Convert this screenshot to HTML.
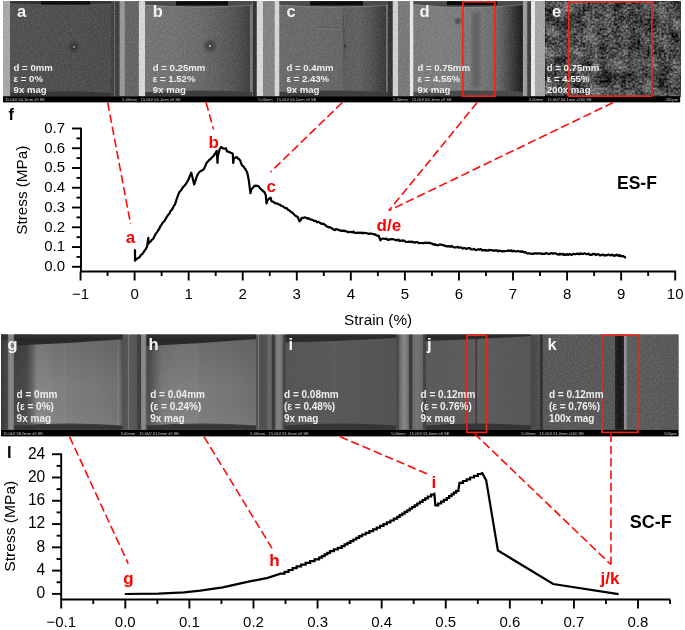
<!DOCTYPE html>
<html><head><meta charset="utf-8"><style>
html,body{margin:0;padding:0;background:#fff;}
body{width:685px;height:630px;overflow:hidden;position:relative;font-family:"Liberation Sans",sans-serif;}
svg{position:absolute;left:0;top:0;display:block;will-change:transform;}
</style></head><body>
<svg width="685" height="630" viewBox="0 0 685 630">
<defs><filter id="n1" x="0" y="0" width="100%" height="100%" color-interpolation-filters="sRGB"><feTurbulence type="fractalNoise" baseFrequency="0.65" numOctaves="2" seed="3" result="t"/><feColorMatrix in="t" type="matrix" values="1 0 0 0 0  1 0 0 0 0  1 0 0 0 0  0 0 0 0 1" result="g"/><feComposite in="SourceGraphic" in2="g" operator="arithmetic" k1="0" k2="1" k3="0.16" k4="-0.08"/></filter><filter id="n3" x="0" y="0" width="100%" height="100%" color-interpolation-filters="sRGB"><feTurbulence type="fractalNoise" baseFrequency="0.75" numOctaves="2" seed="5" result="t"/><feColorMatrix in="t" type="matrix" values="1 0 0 0 0  1 0 0 0 0  1 0 0 0 0  0 0 0 0 1" result="g"/><feComposite in="SourceGraphic" in2="g" operator="arithmetic" k1="0" k2="1" k3="0.06" k4="-0.03"/></filter><filter id="n4" x="0" y="0" width="100%" height="100%" color-interpolation-filters="sRGB"><feTurbulence type="fractalNoise" baseFrequency="0.6" numOctaves="2" seed="9" result="t"/><feColorMatrix in="t" type="matrix" values="1 0 0 0 0  1 0 0 0 0  1 0 0 0 0  0 0 0 0 1" result="g"/><feComposite in="SourceGraphic" in2="g" operator="arithmetic" k1="0" k2="1" k3="0.16" k4="-0.08"/></filter><filter id="n2" x="0" y="0" width="100%" height="100%" color-interpolation-filters="sRGB"><feTurbulence type="fractalNoise" baseFrequency="0.42" numOctaves="2" seed="11" result="t1"/><feTurbulence type="fractalNoise" baseFrequency="0.07" numOctaves="2" seed="4" result="t2"/><feColorMatrix in="t1" type="matrix" values="1 0 0 0 0  1 0 0 0 0  1 0 0 0 0  0 0 0 0 1" result="g1"/><feColorMatrix in="t2" type="matrix" values="1 0 0 0 0  1 0 0 0 0  1 0 0 0 0  0 0 0 0 1" result="g2"/><feComposite in="SourceGraphic" in2="g1" operator="arithmetic" k1="0" k2="1" k3="0.68" k4="-0.34" result="s1"/><feComposite in="s1" in2="g2" operator="arithmetic" k1="0" k2="1" k3="0.55" k4="-0.275"/></filter><filter id="blur2"><feGaussianBlur stdDeviation="2"/></filter><linearGradient id="vg" x1="0" y1="0" x2="0" y2="1"><stop offset="0" stop-color="#000" stop-opacity="0.13"/><stop offset="0.6" stop-color="#000" stop-opacity="0"/><stop offset="1" stop-color="#fff" stop-opacity="0.04"/></linearGradient><radialGradient id="spot"><stop offset="0" stop-color="#181818" stop-opacity="0.6"/><stop offset="0.5" stop-color="#202020" stop-opacity="0.35"/><stop offset="1" stop-color="#202020" stop-opacity="0"/></radialGradient><filter id="blur1"><feGaussianBlur stdDeviation="1"/></filter><linearGradient id="g1" gradientUnits="userSpaceOnUse" x1="3" y1="0" x2="138.8" y2="0"><stop offset="0.0000" stop-color="#a8a8a8"/><stop offset="0.0530" stop-color="#a8a8a8"/><stop offset="0.0552" stop-color="#535353"/><stop offset="0.4197" stop-color="#515151"/><stop offset="0.7953" stop-color="#4e4e4e"/><stop offset="0.7990" stop-color="#444444"/><stop offset="0.8174" stop-color="#424242"/><stop offset="0.8211" stop-color="#6e6e6e"/><stop offset="0.8284" stop-color="#424242"/><stop offset="0.8564" stop-color="#424242"/><stop offset="0.8601" stop-color="#989898"/><stop offset="0.8940" stop-color="#989898"/><stop offset="0.8976" stop-color="#666666"/><stop offset="1.0000" stop-color="#666666"/></linearGradient><linearGradient id="g2" gradientUnits="userSpaceOnUse" x1="138.8" y1="0" x2="274.6" y2="0"><stop offset="0.0000" stop-color="#d6d6d6"/><stop offset="0.0457" stop-color="#d6d6d6"/><stop offset="0.0486" stop-color="#767676"/><stop offset="0.2666" stop-color="#737373"/><stop offset="0.4507" stop-color="#6c6c6c"/><stop offset="0.5979" stop-color="#606060"/><stop offset="0.7084" stop-color="#545454"/><stop offset="0.7820" stop-color="#484848"/><stop offset="0.8152" stop-color="#404040"/><stop offset="0.8225" stop-color="#7d7d7d"/><stop offset="0.8373" stop-color="#6e6e6e"/><stop offset="0.8409" stop-color="#343434"/><stop offset="0.8660" stop-color="#343434"/><stop offset="0.8689" stop-color="#d7d7d7"/><stop offset="0.9109" stop-color="#d7d7d7"/><stop offset="0.9146" stop-color="#848484"/><stop offset="1.0000" stop-color="#848484"/></linearGradient><linearGradient id="g3" gradientUnits="userSpaceOnUse" x1="274.6" y1="0" x2="409.8" y2="0"><stop offset="0.0000" stop-color="#d6d6d6"/><stop offset="0.0340" stop-color="#d6d6d6"/><stop offset="0.0370" stop-color="#6c6c6c"/><stop offset="0.3358" stop-color="#6a6a6a"/><stop offset="0.4985" stop-color="#676767"/><stop offset="0.5096" stop-color="#5e5e5e"/><stop offset="0.6317" stop-color="#626262"/><stop offset="0.7056" stop-color="#565656"/><stop offset="0.7648" stop-color="#484848"/><stop offset="0.8166" stop-color="#3c3c3c"/><stop offset="0.8203" stop-color="#3c3c3c"/><stop offset="0.8277" stop-color="#737373"/><stop offset="0.8351" stop-color="#696969"/><stop offset="0.8388" stop-color="#343434"/><stop offset="0.8713" stop-color="#343434"/><stop offset="0.8743" stop-color="#d0d0d0"/><stop offset="0.9098" stop-color="#d0d0d0"/><stop offset="0.9127" stop-color="#7a7a7a"/><stop offset="1.0000" stop-color="#7a7a7a"/></linearGradient><linearGradient id="g4" gradientUnits="userSpaceOnUse" x1="409.8" y1="0" x2="545.3" y2="0"><stop offset="0.0000" stop-color="#e6e6e6"/><stop offset="0.0251" stop-color="#e6e6e6"/><stop offset="0.0280" stop-color="#7c7c7c"/><stop offset="0.2229" stop-color="#7e7e7e"/><stop offset="0.3779" stop-color="#7d7d7d"/><stop offset="0.5181" stop-color="#787878"/><stop offset="0.6214" stop-color="#6e6e6e"/><stop offset="0.6804" stop-color="#606060"/><stop offset="0.7321" stop-color="#4a4a4a"/><stop offset="0.7764" stop-color="#363636"/><stop offset="0.8207" stop-color="#242424"/><stop offset="0.8317" stop-color="#2a2a2a"/><stop offset="0.8354" stop-color="#a5a5a5"/><stop offset="0.8664" stop-color="#969696"/><stop offset="0.8694" stop-color="#444444"/><stop offset="0.8915" stop-color="#444444"/><stop offset="0.8945" stop-color="#e8e8e8"/><stop offset="0.9210" stop-color="#e8e8e8"/><stop offset="0.9240" stop-color="#a5a5a5"/><stop offset="1.0000" stop-color="#a5a5a5"/></linearGradient><linearGradient id="g5" gradientUnits="userSpaceOnUse" x1="545.3" y1="0" x2="680.2" y2="0"><stop offset="0.0000" stop-color="#4c4c4c"/><stop offset="1.0000" stop-color="#4c4c4c"/></linearGradient><linearGradient id="g6" gradientUnits="userSpaceOnUse" x1="1" y1="0" x2="137.2" y2="0"><stop offset="0.0000" stop-color="#3a3a3a"/><stop offset="0.0499" stop-color="#484848"/><stop offset="0.0529" stop-color="#787878"/><stop offset="0.0734" stop-color="#8c8c8c"/><stop offset="0.0954" stop-color="#767676"/><stop offset="0.0984" stop-color="#464646"/><stop offset="0.1836" stop-color="#4a4a4a"/><stop offset="0.2276" stop-color="#646464"/><stop offset="0.2643" stop-color="#868686"/><stop offset="0.3304" stop-color="#868686"/><stop offset="0.3891" stop-color="#818181"/><stop offset="0.4699" stop-color="#7f7f7f"/><stop offset="0.4728" stop-color="#888888"/><stop offset="0.4772" stop-color="#7d7d7d"/><stop offset="0.7269" stop-color="#787878"/><stop offset="0.8517" stop-color="#727272"/><stop offset="0.8627" stop-color="#7e7e7e"/><stop offset="0.8700" stop-color="#707070"/><stop offset="0.8811" stop-color="#686868"/><stop offset="0.8928" stop-color="#525252"/><stop offset="0.9288" stop-color="#565656"/><stop offset="0.9325" stop-color="#969696"/><stop offset="0.9398" stop-color="#5a5a5a"/><stop offset="1.0000" stop-color="#545454"/></linearGradient><linearGradient id="g7" gradientUnits="userSpaceOnUse" x1="137.2" y1="0" x2="266.8" y2="0"><stop offset="0.0000" stop-color="#3e3e3e"/><stop offset="0.0293" stop-color="#3e3e3e"/><stop offset="0.0324" stop-color="#808080"/><stop offset="0.0525" stop-color="#8c8c8c"/><stop offset="0.0694" stop-color="#787878"/><stop offset="0.0725" stop-color="#505050"/><stop offset="0.0934" stop-color="#505050"/><stop offset="0.1373" stop-color="#646464"/><stop offset="0.1914" stop-color="#7a7a7a"/><stop offset="0.3302" stop-color="#808080"/><stop offset="0.4537" stop-color="#7e7e7e"/><stop offset="0.4568" stop-color="#858585"/><stop offset="0.4614" stop-color="#7c7c7c"/><stop offset="0.7160" stop-color="#767676"/><stop offset="0.9136" stop-color="#707070"/><stop offset="0.9167" stop-color="#525252"/><stop offset="0.9344" stop-color="#525252"/><stop offset="0.9367" stop-color="#8c8c8c"/><stop offset="0.9414" stop-color="#525252"/><stop offset="0.9606" stop-color="#505050"/><stop offset="1.0000" stop-color="#545454"/></linearGradient><linearGradient id="g8" gradientUnits="userSpaceOnUse" x1="266.8" y1="0" x2="407.6" y2="0"><stop offset="0.0000" stop-color="#565656"/><stop offset="0.0050" stop-color="#646464"/><stop offset="0.0227" stop-color="#686868"/><stop offset="0.0369" stop-color="#565656"/><stop offset="0.0384" stop-color="#3c3c3c"/><stop offset="0.0597" stop-color="#3c3c3c"/><stop offset="0.0625" stop-color="#767676"/><stop offset="0.0866" stop-color="#828282"/><stop offset="0.1108" stop-color="#707070"/><stop offset="0.1136" stop-color="#464646"/><stop offset="0.1321" stop-color="#464646"/><stop offset="0.1349" stop-color="#565656"/><stop offset="0.4773" stop-color="#595959"/><stop offset="0.4808" stop-color="#606060"/><stop offset="0.4844" stop-color="#585858"/><stop offset="0.7330" stop-color="#565656"/><stop offset="0.9162" stop-color="#535353"/><stop offset="0.9190" stop-color="#4a4a4a"/><stop offset="0.9389" stop-color="#4a4a4a"/><stop offset="0.9411" stop-color="#787878"/><stop offset="0.9446" stop-color="#4c4c4c"/><stop offset="0.9474" stop-color="#6e6e6e"/><stop offset="0.9744" stop-color="#878787"/><stop offset="1.0000" stop-color="#787878"/></linearGradient><linearGradient id="g9" gradientUnits="userSpaceOnUse" x1="407.6" y1="0" x2="537.6" y2="0"><stop offset="0.0000" stop-color="#767676"/><stop offset="0.0123" stop-color="#646464"/><stop offset="0.0138" stop-color="#3a3a3a"/><stop offset="0.0362" stop-color="#3a3a3a"/><stop offset="0.0385" stop-color="#686868"/><stop offset="0.0723" stop-color="#747474"/><stop offset="0.1146" stop-color="#686868"/><stop offset="0.1169" stop-color="#444444"/><stop offset="0.1377" stop-color="#444444"/><stop offset="0.1400" stop-color="#5a5a5a"/><stop offset="0.4492" stop-color="#5c5c5c"/><stop offset="0.5215" stop-color="#5d5d5d"/><stop offset="0.5231" stop-color="#3a3a3a"/><stop offset="0.5308" stop-color="#3a3a3a"/><stop offset="0.5323" stop-color="#5e5e5e"/><stop offset="0.7108" stop-color="#5a5a5a"/><stop offset="0.9415" stop-color="#565656"/><stop offset="0.9492" stop-color="#4a4a4a"/><stop offset="0.9800" stop-color="#4a4a4a"/><stop offset="1.0000" stop-color="#545454"/></linearGradient><linearGradient id="g10" gradientUnits="userSpaceOnUse" x1="537.6" y1="0" x2="678.6" y2="0"><stop offset="0.0000" stop-color="#545454"/><stop offset="0.0170" stop-color="#505050"/><stop offset="0.0184" stop-color="#323232"/><stop offset="0.0340" stop-color="#323232"/><stop offset="0.0369" stop-color="#5a5a5a"/><stop offset="0.5475" stop-color="#5a5a5a"/><stop offset="0.5504" stop-color="#282828"/><stop offset="0.5631" stop-color="#1e1e1e"/><stop offset="0.5915" stop-color="#1a1a1a"/><stop offset="0.6099" stop-color="#282828"/><stop offset="0.6128" stop-color="#969696"/><stop offset="0.6305" stop-color="#828282"/><stop offset="0.6362" stop-color="#5e5e5e"/><stop offset="1.0000" stop-color="#5a5a5a"/></linearGradient></defs>
<rect x="3" y="1.2" width="136.4" height="95" fill="url(#g1)" filter="url(#n1)"/>
<path d="M10.5 1.2 H111.5 V3.2 Q61 5.2 10.5 3.2Z" fill="#2e2e2e"/><rect x="41" y="1.2" width="49" height="3.4" fill="#0e0e0e"/>
<path d="M10.5 92.8 Q61 90.4 111.5 92.8 V96.2 H10.5Z" fill="#383838"/>
<circle cx="74" cy="47" r="7" fill="url(#spot)"/><circle cx="74" cy="47" r="1.1" fill="#999"/><line x1="87.0" y1="96.2" x2="87.0" y2="97.5" stroke="#ddd" stroke-width="0.7"/><line x1="90.9" y1="96.2" x2="90.9" y2="97.5" stroke="#ddd" stroke-width="0.7"/><line x1="94.8" y1="96.2" x2="94.8" y2="97.5" stroke="#ddd" stroke-width="0.7"/><line x1="98.7" y1="96.2" x2="98.7" y2="97.5" stroke="#ddd" stroke-width="0.7"/><line x1="102.6" y1="96.2" x2="102.6" y2="97.5" stroke="#ddd" stroke-width="0.7"/><line x1="106.5" y1="96.2" x2="106.5" y2="97.5" stroke="#ddd" stroke-width="0.7"/><line x1="110.4" y1="96.2" x2="110.4" y2="97.5" stroke="#ddd" stroke-width="0.7"/><line x1="114.3" y1="96.2" x2="114.3" y2="97.5" stroke="#ddd" stroke-width="0.7"/><line x1="118.2" y1="96.2" x2="118.2" y2="97.5" stroke="#ddd" stroke-width="0.7"/><line x1="122.1" y1="96.2" x2="122.1" y2="97.5" stroke="#ddd" stroke-width="0.7"/><line x1="126.0" y1="96.2" x2="126.0" y2="97.5" stroke="#ddd" stroke-width="0.7"/>
<rect x="3" y="96.2" width="136.3" height="6.2" fill="#000"/>
<text x="5" y="101.1" font-size="4.0" fill="#c8c8c8" font-family="Liberation Sans">15.0kV 64.1mm x9 SE</text>
<text x="136.8" y="101.1" font-size="4.0" fill="#c8c8c8" text-anchor="end" font-family="Liberation Sans">5.00mm</text>

<text x="17" y="16.8" font-size="16.5" font-weight="bold" fill="#f4f4f4" font-family="Liberation Sans">a</text>
<text x="13.6" y="70.6" font-size="9.6" font-weight="bold" fill="#efefef" font-family="Liberation Sans">d = 0mm</text>
<text x="13.6" y="81.9" font-size="9.6" font-weight="bold" fill="#efefef" font-family="Liberation Sans">ε = 0%</text>
<text x="13.6" y="93.2" font-size="9.6" font-weight="bold" fill="#efefef" font-family="Liberation Sans">9x mag</text>
<rect x="138.8" y="1.2" width="136.4" height="95" fill="url(#g2)" filter="url(#n1)"/>
<path d="M145.4 1.2 H252 V4.8 Q198.7 8.8 145.4 4.8Z" fill="#4a4a4a"/><path d="M145.4 5.2 Q198.7 9.2 252 5.2" fill="none" stroke="#a0a0a0" stroke-width="0.8" opacity="0.55"/><rect x="176" y="1.2" width="52" height="4.2" fill="#0c0c0c"/>
<path d="M145.4 92 Q198.7 89 252 92 V96.2 H145.4Z" fill="#3e3e3e"/>
<circle cx="210" cy="46" r="8" fill="url(#spot)"/><circle cx="210" cy="46" r="1.2" fill="#aaa"/><line x1="223.0" y1="96.2" x2="223.0" y2="97.5" stroke="#ddd" stroke-width="0.7"/><line x1="226.9" y1="96.2" x2="226.9" y2="97.5" stroke="#ddd" stroke-width="0.7"/><line x1="230.8" y1="96.2" x2="230.8" y2="97.5" stroke="#ddd" stroke-width="0.7"/><line x1="234.7" y1="96.2" x2="234.7" y2="97.5" stroke="#ddd" stroke-width="0.7"/><line x1="238.6" y1="96.2" x2="238.6" y2="97.5" stroke="#ddd" stroke-width="0.7"/><line x1="242.5" y1="96.2" x2="242.5" y2="97.5" stroke="#ddd" stroke-width="0.7"/><line x1="246.4" y1="96.2" x2="246.4" y2="97.5" stroke="#ddd" stroke-width="0.7"/><line x1="250.3" y1="96.2" x2="250.3" y2="97.5" stroke="#ddd" stroke-width="0.7"/><line x1="254.2" y1="96.2" x2="254.2" y2="97.5" stroke="#ddd" stroke-width="0.7"/><line x1="258.1" y1="96.2" x2="258.1" y2="97.5" stroke="#ddd" stroke-width="0.7"/><line x1="262.0" y1="96.2" x2="262.0" y2="97.5" stroke="#ddd" stroke-width="0.7"/>
<rect x="138.3" y="96.2" width="136.8" height="6.2" fill="#000"/>
<text x="140.8" y="101.1" font-size="4.0" fill="#c8c8c8" font-family="Liberation Sans">15.0kV 64.1mm x9 SE</text>
<text x="272.6" y="101.1" font-size="4.0" fill="#c8c8c8" text-anchor="end" font-family="Liberation Sans">5.00mm</text>

<text x="152.8" y="16.8" font-size="16.5" font-weight="bold" fill="#f4f4f4" font-family="Liberation Sans">b</text>
<text x="152.8" y="70.6" font-size="9.6" font-weight="bold" fill="#efefef" font-family="Liberation Sans">d = 0.25mm</text>
<text x="152.8" y="81.9" font-size="9.6" font-weight="bold" fill="#efefef" font-family="Liberation Sans">ε = 1.52%</text>
<text x="152.8" y="93.2" font-size="9.6" font-weight="bold" fill="#efefef" font-family="Liberation Sans">9x mag</text>
<rect x="274.6" y="1.2" width="135.8" height="95" fill="url(#g3)" filter="url(#n1)"/>
<path d="M279.6 1.2 H388 V4.8 Q333.8 8.8 279.6 4.8Z" fill="#4a4a4a"/><path d="M279.6 5.2 Q333.8 9.2 388 5.2" fill="none" stroke="#a0a0a0" stroke-width="0.8" opacity="0.55"/><rect x="310" y="1.2" width="53" height="4.2" fill="#0c0c0c"/>
<path d="M279.6 92 Q333.8 89 388 92 V96.2 H279.6Z" fill="#3e3e3e"/>
<path d="M343 12 L343.5 30 L344.5 45 L344 62" stroke="#4a4a4a" stroke-width="1.4" fill="none" opacity="0.5"/><line x1="316" y1="27" x2="340" y2="28" stroke="#4a4a4a" stroke-width="0.9" opacity="0.7"/><line x1="316" y1="28.3" x2="340" y2="29.3" stroke="#999" stroke-width="0.7" opacity="0.4"/><circle cx="345" cy="46" r="1.4" fill="#333"/><line x1="358.0" y1="96.2" x2="358.0" y2="97.5" stroke="#ddd" stroke-width="0.7"/><line x1="361.9" y1="96.2" x2="361.9" y2="97.5" stroke="#ddd" stroke-width="0.7"/><line x1="365.8" y1="96.2" x2="365.8" y2="97.5" stroke="#ddd" stroke-width="0.7"/><line x1="369.7" y1="96.2" x2="369.7" y2="97.5" stroke="#ddd" stroke-width="0.7"/><line x1="373.6" y1="96.2" x2="373.6" y2="97.5" stroke="#ddd" stroke-width="0.7"/><line x1="377.5" y1="96.2" x2="377.5" y2="97.5" stroke="#ddd" stroke-width="0.7"/><line x1="381.4" y1="96.2" x2="381.4" y2="97.5" stroke="#ddd" stroke-width="0.7"/><line x1="385.3" y1="96.2" x2="385.3" y2="97.5" stroke="#ddd" stroke-width="0.7"/><line x1="389.2" y1="96.2" x2="389.2" y2="97.5" stroke="#ddd" stroke-width="0.7"/><line x1="393.1" y1="96.2" x2="393.1" y2="97.5" stroke="#ddd" stroke-width="0.7"/><line x1="397.0" y1="96.2" x2="397.0" y2="97.5" stroke="#ddd" stroke-width="0.7"/>
<rect x="274.1" y="96.2" width="136.2" height="6.2" fill="#000"/>
<text x="276.6" y="101.1" font-size="4.0" fill="#c8c8c8" font-family="Liberation Sans">15.0kV 64.1mm x9 SE</text>
<text x="407.8" y="101.1" font-size="4.0" fill="#c8c8c8" text-anchor="end" font-family="Liberation Sans">5.00mm</text>

<text x="286.4" y="16.8" font-size="16.5" font-weight="bold" fill="#f4f4f4" font-family="Liberation Sans">c</text>
<text x="286.4" y="70.6" font-size="9.6" font-weight="bold" fill="#efefef" font-family="Liberation Sans">d = 0.4mm</text>
<text x="286.4" y="81.9" font-size="9.6" font-weight="bold" fill="#efefef" font-family="Liberation Sans">ε = 2.43%</text>
<text x="286.4" y="93.2" font-size="9.6" font-weight="bold" fill="#efefef" font-family="Liberation Sans">9x mag</text>
<rect x="409.8" y="1.2" width="136.1" height="95" fill="url(#g4)" filter="url(#n1)"/>
<path d="M413.6 1.2 H523 V4.2 Q468.3 10.2 413.6 4.2Z" fill="#4a4a4a"/><path d="M413.6 4.6 Q468.3 10.6 523 4.6" fill="none" stroke="#a0a0a0" stroke-width="0.8" opacity="0.55"/><rect x="447" y="1.2" width="50" height="4" fill="#0a0a0a"/>
<path d="M413.6 92 Q468.3 89 523 92 V96.2 H413.6Z" fill="#4a4a4a"/>
<rect x="472" y="12" width="8" height="76" fill="#4a4a4a" opacity="0.5" filter="url(#blur2)"/><circle cx="458" cy="21" r="3" fill="#2a2a2a" opacity="0.6" filter="url(#blur1)"/><line x1="493.0" y1="96.2" x2="493.0" y2="97.5" stroke="#ddd" stroke-width="0.7"/><line x1="496.9" y1="96.2" x2="496.9" y2="97.5" stroke="#ddd" stroke-width="0.7"/><line x1="500.8" y1="96.2" x2="500.8" y2="97.5" stroke="#ddd" stroke-width="0.7"/><line x1="504.7" y1="96.2" x2="504.7" y2="97.5" stroke="#ddd" stroke-width="0.7"/><line x1="508.6" y1="96.2" x2="508.6" y2="97.5" stroke="#ddd" stroke-width="0.7"/><line x1="512.5" y1="96.2" x2="512.5" y2="97.5" stroke="#ddd" stroke-width="0.7"/><line x1="516.4" y1="96.2" x2="516.4" y2="97.5" stroke="#ddd" stroke-width="0.7"/><line x1="520.3" y1="96.2" x2="520.3" y2="97.5" stroke="#ddd" stroke-width="0.7"/><line x1="524.2" y1="96.2" x2="524.2" y2="97.5" stroke="#ddd" stroke-width="0.7"/><line x1="528.1" y1="96.2" x2="528.1" y2="97.5" stroke="#ddd" stroke-width="0.7"/><line x1="532.0" y1="96.2" x2="532.0" y2="97.5" stroke="#ddd" stroke-width="0.7"/>
<rect x="409.3" y="96.2" width="136.5" height="6.2" fill="#000"/>
<text x="411.8" y="101.1" font-size="4.0" fill="#c8c8c8" font-family="Liberation Sans">15.0kV 64.1mm x9 SE</text>
<text x="543.3" y="101.1" font-size="4.0" fill="#c8c8c8" text-anchor="end" font-family="Liberation Sans">5.00mm</text>
<rect x="462.8" y="1.8" width="32" height="94.4" fill="none" stroke="#ee2418" stroke-width="1.6"/>
<text x="419.4" y="16.8" font-size="16.5" font-weight="bold" fill="#f4f4f4" font-family="Liberation Sans">d</text>
<text x="417.4" y="70.6" font-size="9.6" font-weight="bold" fill="#efefef" font-family="Liberation Sans">d = 0.75mm</text>
<text x="417.4" y="81.9" font-size="9.6" font-weight="bold" fill="#efefef" font-family="Liberation Sans">ε = 4.55%</text>
<text x="417.4" y="93.2" font-size="9.6" font-weight="bold" fill="#efefef" font-family="Liberation Sans">9x mag</text>
<rect x="545.3" y="1.2" width="134.9" height="95" fill="url(#g5)" filter="url(#n2)"/>
<line x1="640.0" y1="96.2" x2="640.0" y2="97.5" stroke="#ddd" stroke-width="0.7"/><line x1="643.8" y1="96.2" x2="643.8" y2="97.5" stroke="#ddd" stroke-width="0.7"/><line x1="647.6" y1="96.2" x2="647.6" y2="97.5" stroke="#ddd" stroke-width="0.7"/><line x1="651.4" y1="96.2" x2="651.4" y2="97.5" stroke="#ddd" stroke-width="0.7"/><line x1="655.2" y1="96.2" x2="655.2" y2="97.5" stroke="#ddd" stroke-width="0.7"/><line x1="659.0" y1="96.2" x2="659.0" y2="97.5" stroke="#ddd" stroke-width="0.7"/><line x1="662.8" y1="96.2" x2="662.8" y2="97.5" stroke="#ddd" stroke-width="0.7"/><line x1="666.6" y1="96.2" x2="666.6" y2="97.5" stroke="#ddd" stroke-width="0.7"/><line x1="670.4" y1="96.2" x2="670.4" y2="97.5" stroke="#ddd" stroke-width="0.7"/><line x1="674.2" y1="96.2" x2="674.2" y2="97.5" stroke="#ddd" stroke-width="0.7"/><line x1="678.0" y1="96.2" x2="678.0" y2="97.5" stroke="#ddd" stroke-width="0.7"/>
<rect x="544.8" y="96.2" width="135.4" height="6.2" fill="#000"/>
<text x="547.3" y="101.1" font-size="4.0" fill="#c8c8c8" font-family="Liberation Sans">15.0kV 64.1mm x200 SE</text>
<text x="678.2" y="101.1" font-size="4.0" fill="#c8c8c8" text-anchor="end" font-family="Liberation Sans">200µm</text>
<rect x="568.8" y="1.8" width="83" height="94.4" fill="none" stroke="#ee2418" stroke-width="1.6"/>
<text x="552" y="16.8" font-size="16.5" font-weight="bold" fill="#f4f4f4" font-family="Liberation Sans">e</text>
<text x="546.8" y="70.6" font-size="9.6" font-weight="bold" fill="#efefef" font-family="Liberation Sans">d = 0.75mm</text>
<text x="546.8" y="81.9" font-size="9.6" font-weight="bold" fill="#efefef" font-family="Liberation Sans">ε = 4.55%</text>
<text x="546.8" y="93.2" font-size="9.6" font-weight="bold" fill="#efefef" font-family="Liberation Sans">200x mag</text>
<rect x="1" y="334.4" width="136.8" height="95.4" fill="url(#g6)" filter="url(#n3)"/>
<path d="M14.4 334.4 H122.6 V339.2 Q68.5 343.35 14.4 345.5Z" fill="#2e2e2e"/><path d="M1 334.4 H7.6 V340 Q4.3 341 1 340Z" fill="#333"/>
<path d="M14.4 425.5 Q68.5 421.5 122.6 425.5 V429.8 H14.4Z" fill="#353535"/>
<rect x="14.4" y="338" width="108.2" height="87.5" fill="url(#vg)"/><line x1="85.0" y1="429.8" x2="85.0" y2="431.1" stroke="#ddd" stroke-width="0.7"/><line x1="88.9" y1="429.8" x2="88.9" y2="431.1" stroke="#ddd" stroke-width="0.7"/><line x1="92.8" y1="429.8" x2="92.8" y2="431.1" stroke="#ddd" stroke-width="0.7"/><line x1="96.7" y1="429.8" x2="96.7" y2="431.1" stroke="#ddd" stroke-width="0.7"/><line x1="100.6" y1="429.8" x2="100.6" y2="431.1" stroke="#ddd" stroke-width="0.7"/><line x1="104.5" y1="429.8" x2="104.5" y2="431.1" stroke="#ddd" stroke-width="0.7"/><line x1="108.4" y1="429.8" x2="108.4" y2="431.1" stroke="#ddd" stroke-width="0.7"/><line x1="112.3" y1="429.8" x2="112.3" y2="431.1" stroke="#ddd" stroke-width="0.7"/><line x1="116.2" y1="429.8" x2="116.2" y2="431.1" stroke="#ddd" stroke-width="0.7"/><line x1="120.1" y1="429.8" x2="120.1" y2="431.1" stroke="#ddd" stroke-width="0.7"/><line x1="124.0" y1="429.8" x2="124.0" y2="431.1" stroke="#ddd" stroke-width="0.7"/>
<rect x="1" y="429.8" width="136.7" height="6.6" fill="#000"/>
<text x="3" y="435.1" font-size="4.0" fill="#c8c8c8" font-family="Liberation Sans">15.0kV 58.9mm x9 SE</text>
<text x="135.2" y="435.1" font-size="4.0" fill="#c8c8c8" text-anchor="end" font-family="Liberation Sans">5.00mm</text>

<text x="7.4" y="349.8" font-size="16.5" font-weight="bold" fill="#f4f4f4" font-family="Liberation Sans">g</text>
<text x="16.6" y="398.2" font-size="10" font-weight="bold" fill="#efefef" font-family="Liberation Sans">d = 0mm</text>
<text x="16.6" y="409.95" font-size="10" font-weight="bold" fill="#efefef" font-family="Liberation Sans">(ε = 0%)</text>
<text x="16.6" y="421.7" font-size="10" font-weight="bold" fill="#efefef" font-family="Liberation Sans">9x mag</text>
<rect x="137.2" y="334.4" width="130.2" height="95.4" fill="url(#g7)" filter="url(#n3)"/>
<path d="M146.6 334.4 H256 V339 Q201.3 343.5 146.6 346Z" fill="#2e2e2e"/>
<path d="M146.6 425.5 Q201.3 421.5 256 425.5 V429.8 H146.6Z" fill="#353535"/>
<rect x="146.6" y="338" width="109.4" height="87.5" fill="url(#vg)"/><line x1="218.0" y1="429.8" x2="218.0" y2="431.1" stroke="#ddd" stroke-width="0.7"/><line x1="221.9" y1="429.8" x2="221.9" y2="431.1" stroke="#ddd" stroke-width="0.7"/><line x1="225.8" y1="429.8" x2="225.8" y2="431.1" stroke="#ddd" stroke-width="0.7"/><line x1="229.7" y1="429.8" x2="229.7" y2="431.1" stroke="#ddd" stroke-width="0.7"/><line x1="233.6" y1="429.8" x2="233.6" y2="431.1" stroke="#ddd" stroke-width="0.7"/><line x1="237.5" y1="429.8" x2="237.5" y2="431.1" stroke="#ddd" stroke-width="0.7"/><line x1="241.4" y1="429.8" x2="241.4" y2="431.1" stroke="#ddd" stroke-width="0.7"/><line x1="245.3" y1="429.8" x2="245.3" y2="431.1" stroke="#ddd" stroke-width="0.7"/><line x1="249.2" y1="429.8" x2="249.2" y2="431.1" stroke="#ddd" stroke-width="0.7"/><line x1="253.1" y1="429.8" x2="253.1" y2="431.1" stroke="#ddd" stroke-width="0.7"/><line x1="257.0" y1="429.8" x2="257.0" y2="431.1" stroke="#ddd" stroke-width="0.7"/>
<rect x="136.7" y="429.8" width="130.6" height="6.6" fill="#000"/>
<text x="139.2" y="435.1" font-size="4.0" fill="#c8c8c8" font-family="Liberation Sans">15.0kV 61.5mm x9 SE</text>
<text x="264.8" y="435.1" font-size="4.0" fill="#c8c8c8" text-anchor="end" font-family="Liberation Sans">5.00mm</text>

<text x="148.6" y="350.2" font-size="16.5" font-weight="bold" fill="#f4f4f4" font-family="Liberation Sans">h</text>
<text x="150.2" y="398.2" font-size="10" font-weight="bold" fill="#efefef" font-family="Liberation Sans">d = 0.04mm</text>
<text x="150.2" y="409.95" font-size="10" font-weight="bold" fill="#efefef" font-family="Liberation Sans">(ε = 0.24%)</text>
<text x="150.2" y="421.7" font-size="10" font-weight="bold" fill="#efefef" font-family="Liberation Sans">9x mag</text>
<rect x="266.8" y="334.4" width="141.4" height="95.4" fill="url(#g8)" filter="url(#n3)"/>
<path d="M285.4 334.4 H396 V338 Q340.7 341.25 285.4 342.5Z" fill="#2c2c2c"/>
<path d="M285.4 425.5 Q340.7 421.5 396 425.5 V429.8 H285.4Z" fill="#353535"/>
<line x1="358.0" y1="429.8" x2="358.0" y2="431.1" stroke="#ddd" stroke-width="0.7"/><line x1="361.9" y1="429.8" x2="361.9" y2="431.1" stroke="#ddd" stroke-width="0.7"/><line x1="365.8" y1="429.8" x2="365.8" y2="431.1" stroke="#ddd" stroke-width="0.7"/><line x1="369.7" y1="429.8" x2="369.7" y2="431.1" stroke="#ddd" stroke-width="0.7"/><line x1="373.6" y1="429.8" x2="373.6" y2="431.1" stroke="#ddd" stroke-width="0.7"/><line x1="377.5" y1="429.8" x2="377.5" y2="431.1" stroke="#ddd" stroke-width="0.7"/><line x1="381.4" y1="429.8" x2="381.4" y2="431.1" stroke="#ddd" stroke-width="0.7"/><line x1="385.3" y1="429.8" x2="385.3" y2="431.1" stroke="#ddd" stroke-width="0.7"/><line x1="389.2" y1="429.8" x2="389.2" y2="431.1" stroke="#ddd" stroke-width="0.7"/><line x1="393.1" y1="429.8" x2="393.1" y2="431.1" stroke="#ddd" stroke-width="0.7"/><line x1="397.0" y1="429.8" x2="397.0" y2="431.1" stroke="#ddd" stroke-width="0.7"/>
<rect x="266.3" y="429.8" width="141.8" height="6.6" fill="#000"/>
<text x="268.8" y="435.1" font-size="4.0" fill="#c8c8c8" font-family="Liberation Sans">15.0kV 61.0mm x9 SE</text>
<text x="405.6" y="435.1" font-size="4.0" fill="#c8c8c8" text-anchor="end" font-family="Liberation Sans">5.00mm</text>

<text x="288.6" y="349.6" font-size="16.5" font-weight="bold" fill="#f4f4f4" font-family="Liberation Sans">i</text>
<text x="284" y="398.2" font-size="10" font-weight="bold" fill="#efefef" font-family="Liberation Sans">d = 0.08mm</text>
<text x="284" y="409.95" font-size="10" font-weight="bold" fill="#efefef" font-family="Liberation Sans">(ε = 0.48%)</text>
<text x="284" y="421.7" font-size="10" font-weight="bold" fill="#efefef" font-family="Liberation Sans">9x mag</text>
<rect x="407.6" y="334.4" width="130.6" height="95.4" fill="url(#g9)" filter="url(#n3)"/>
<path d="M425.5 334.4 H531 V336 Q478.25 339.5 425.5 341Z" fill="#2a2a2a"/>
<path d="M425.5 425.5 Q478.25 421.5 531 425.5 V429.8 H425.5Z" fill="#353535"/>
<line x1="495.0" y1="429.8" x2="495.0" y2="431.1" stroke="#ddd" stroke-width="0.7"/><line x1="498.9" y1="429.8" x2="498.9" y2="431.1" stroke="#ddd" stroke-width="0.7"/><line x1="502.8" y1="429.8" x2="502.8" y2="431.1" stroke="#ddd" stroke-width="0.7"/><line x1="506.7" y1="429.8" x2="506.7" y2="431.1" stroke="#ddd" stroke-width="0.7"/><line x1="510.6" y1="429.8" x2="510.6" y2="431.1" stroke="#ddd" stroke-width="0.7"/><line x1="514.5" y1="429.8" x2="514.5" y2="431.1" stroke="#ddd" stroke-width="0.7"/><line x1="518.4" y1="429.8" x2="518.4" y2="431.1" stroke="#ddd" stroke-width="0.7"/><line x1="522.3" y1="429.8" x2="522.3" y2="431.1" stroke="#ddd" stroke-width="0.7"/><line x1="526.2" y1="429.8" x2="526.2" y2="431.1" stroke="#ddd" stroke-width="0.7"/><line x1="530.1" y1="429.8" x2="530.1" y2="431.1" stroke="#ddd" stroke-width="0.7"/><line x1="534.0" y1="429.8" x2="534.0" y2="431.1" stroke="#ddd" stroke-width="0.7"/>
<rect x="407.1" y="429.8" width="131" height="6.6" fill="#000"/>
<text x="409.6" y="435.1" font-size="4.0" fill="#c8c8c8" font-family="Liberation Sans">15.0kV 61.0mm x9 SE</text>
<text x="535.6" y="435.1" font-size="4.0" fill="#c8c8c8" text-anchor="end" font-family="Liberation Sans">5.00mm</text>
<rect x="466.9" y="335.2" width="19.6" height="97.2" fill="none" stroke="#ee2418" stroke-width="1.6"/>
<text x="427" y="349.6" font-size="16.5" font-weight="bold" fill="#f4f4f4" font-family="Liberation Sans">j</text>
<text x="420.6" y="398.2" font-size="10" font-weight="bold" fill="#efefef" font-family="Liberation Sans">d = 0.12mm</text>
<text x="420.6" y="409.95" font-size="10" font-weight="bold" fill="#efefef" font-family="Liberation Sans">(ε = 0.76%)</text>
<text x="420.6" y="421.7" font-size="10" font-weight="bold" fill="#efefef" font-family="Liberation Sans">9x mag</text>
<rect x="537.6" y="334.4" width="141" height="95.4" fill="url(#g10)" filter="url(#n4)"/>
<line x1="640.0" y1="429.8" x2="640.0" y2="431.1" stroke="#ddd" stroke-width="0.7"/><line x1="643.6" y1="429.8" x2="643.6" y2="431.1" stroke="#ddd" stroke-width="0.7"/><line x1="647.2" y1="429.8" x2="647.2" y2="431.1" stroke="#ddd" stroke-width="0.7"/><line x1="650.8" y1="429.8" x2="650.8" y2="431.1" stroke="#ddd" stroke-width="0.7"/><line x1="654.4" y1="429.8" x2="654.4" y2="431.1" stroke="#ddd" stroke-width="0.7"/><line x1="658.0" y1="429.8" x2="658.0" y2="431.1" stroke="#ddd" stroke-width="0.7"/><line x1="661.6" y1="429.8" x2="661.6" y2="431.1" stroke="#ddd" stroke-width="0.7"/><line x1="665.2" y1="429.8" x2="665.2" y2="431.1" stroke="#ddd" stroke-width="0.7"/><line x1="668.8" y1="429.8" x2="668.8" y2="431.1" stroke="#ddd" stroke-width="0.7"/><line x1="672.4" y1="429.8" x2="672.4" y2="431.1" stroke="#ddd" stroke-width="0.7"/><line x1="676.0" y1="429.8" x2="676.0" y2="431.1" stroke="#ddd" stroke-width="0.7"/>
<rect x="537.1" y="429.8" width="141.5" height="6.6" fill="#000"/>
<text x="539.6" y="435.1" font-size="4.0" fill="#c8c8c8" font-family="Liberation Sans">15.0kV 61.0mm x100 SE</text>
<text x="676.6" y="435.1" font-size="4.0" fill="#c8c8c8" text-anchor="end" font-family="Liberation Sans">500µm</text>
<rect x="601.8" y="335.2" width="36" height="97.2" fill="none" stroke="#ee2418" stroke-width="1.6"/>
<text x="547.6" y="350.3" font-size="16.5" font-weight="bold" fill="#f4f4f4" font-family="Liberation Sans">k</text>
<text x="548.9" y="398.2" font-size="10" font-weight="bold" fill="#efefef" font-family="Liberation Sans">d = 0.12mm</text>
<text x="548.9" y="409.95" font-size="10" font-weight="bold" fill="#efefef" font-family="Liberation Sans">(ε = 0.76%)</text>
<text x="548.9" y="421.7" font-size="10" font-weight="bold" fill="#efefef" font-family="Liberation Sans">100x mag</text>
<line x1="81.00" y1="127.80" x2="81.00" y2="272.30" stroke="#000" stroke-width="1.9" />
<line x1="80.20" y1="271.50" x2="676.20" y2="271.50" stroke="#000" stroke-width="1.9" />
<line x1="72.00" y1="266.80" x2="81.00" y2="266.80" stroke="#000" stroke-width="1.9" />
<text x="65.00" y="271.20" font-size="15" fill="#000" text-anchor="end" font-family="Liberation Sans"  >0.0</text>
<line x1="76.50" y1="256.92" x2="81.00" y2="256.92" stroke="#000" stroke-width="1.9" />
<line x1="72.00" y1="247.04" x2="81.00" y2="247.04" stroke="#000" stroke-width="1.9" />
<text x="65.00" y="251.44" font-size="15" fill="#000" text-anchor="end" font-family="Liberation Sans"  >0.1</text>
<line x1="76.50" y1="237.16" x2="81.00" y2="237.16" stroke="#000" stroke-width="1.9" />
<line x1="72.00" y1="227.28" x2="81.00" y2="227.28" stroke="#000" stroke-width="1.9" />
<text x="65.00" y="231.68" font-size="15" fill="#000" text-anchor="end" font-family="Liberation Sans"  >0.2</text>
<line x1="76.50" y1="217.40" x2="81.00" y2="217.40" stroke="#000" stroke-width="1.9" />
<line x1="72.00" y1="207.52" x2="81.00" y2="207.52" stroke="#000" stroke-width="1.9" />
<text x="65.00" y="211.92" font-size="15" fill="#000" text-anchor="end" font-family="Liberation Sans"  >0.3</text>
<line x1="76.50" y1="197.64" x2="81.00" y2="197.64" stroke="#000" stroke-width="1.9" />
<line x1="72.00" y1="187.76" x2="81.00" y2="187.76" stroke="#000" stroke-width="1.9" />
<text x="65.00" y="192.16" font-size="15" fill="#000" text-anchor="end" font-family="Liberation Sans"  >0.4</text>
<line x1="76.50" y1="177.88" x2="81.00" y2="177.88" stroke="#000" stroke-width="1.9" />
<line x1="72.00" y1="168.00" x2="81.00" y2="168.00" stroke="#000" stroke-width="1.9" />
<text x="65.00" y="172.40" font-size="15" fill="#000" text-anchor="end" font-family="Liberation Sans"  >0.5</text>
<line x1="76.50" y1="158.12" x2="81.00" y2="158.12" stroke="#000" stroke-width="1.9" />
<line x1="72.00" y1="148.24" x2="81.00" y2="148.24" stroke="#000" stroke-width="1.9" />
<text x="65.00" y="152.64" font-size="15" fill="#000" text-anchor="end" font-family="Liberation Sans"  >0.6</text>
<line x1="76.50" y1="138.36" x2="81.00" y2="138.36" stroke="#000" stroke-width="1.9" />
<line x1="72.00" y1="128.48" x2="81.00" y2="128.48" stroke="#000" stroke-width="1.9" />
<text x="65.00" y="132.88" font-size="15" fill="#000" text-anchor="end" font-family="Liberation Sans"  >0.7</text>
<line x1="80.54" y1="271.50" x2="80.54" y2="280.50" stroke="#000" stroke-width="1.9" />
<text x="80.54" y="299.40" font-size="15" fill="#000" text-anchor="middle" font-family="Liberation Sans"  >−1</text>
<line x1="107.57" y1="271.50" x2="107.57" y2="276.00" stroke="#000" stroke-width="1.9" />
<line x1="134.60" y1="271.50" x2="134.60" y2="280.50" stroke="#000" stroke-width="1.9" />
<text x="134.60" y="299.40" font-size="15" fill="#000" text-anchor="middle" font-family="Liberation Sans"  >0</text>
<line x1="161.63" y1="271.50" x2="161.63" y2="276.00" stroke="#000" stroke-width="1.9" />
<line x1="188.66" y1="271.50" x2="188.66" y2="280.50" stroke="#000" stroke-width="1.9" />
<text x="188.66" y="299.40" font-size="15" fill="#000" text-anchor="middle" font-family="Liberation Sans"  >1</text>
<line x1="215.69" y1="271.50" x2="215.69" y2="276.00" stroke="#000" stroke-width="1.9" />
<line x1="242.72" y1="271.50" x2="242.72" y2="280.50" stroke="#000" stroke-width="1.9" />
<text x="242.72" y="299.40" font-size="15" fill="#000" text-anchor="middle" font-family="Liberation Sans"  >2</text>
<line x1="269.75" y1="271.50" x2="269.75" y2="276.00" stroke="#000" stroke-width="1.9" />
<line x1="296.78" y1="271.50" x2="296.78" y2="280.50" stroke="#000" stroke-width="1.9" />
<text x="296.78" y="299.40" font-size="15" fill="#000" text-anchor="middle" font-family="Liberation Sans"  >3</text>
<line x1="323.81" y1="271.50" x2="323.81" y2="276.00" stroke="#000" stroke-width="1.9" />
<line x1="350.84" y1="271.50" x2="350.84" y2="280.50" stroke="#000" stroke-width="1.9" />
<text x="350.84" y="299.40" font-size="15" fill="#000" text-anchor="middle" font-family="Liberation Sans"  >4</text>
<line x1="377.87" y1="271.50" x2="377.87" y2="276.00" stroke="#000" stroke-width="1.9" />
<line x1="404.90" y1="271.50" x2="404.90" y2="280.50" stroke="#000" stroke-width="1.9" />
<text x="404.90" y="299.40" font-size="15" fill="#000" text-anchor="middle" font-family="Liberation Sans"  >5</text>
<line x1="431.93" y1="271.50" x2="431.93" y2="276.00" stroke="#000" stroke-width="1.9" />
<line x1="458.96" y1="271.50" x2="458.96" y2="280.50" stroke="#000" stroke-width="1.9" />
<text x="458.96" y="299.40" font-size="15" fill="#000" text-anchor="middle" font-family="Liberation Sans"  >6</text>
<line x1="485.99" y1="271.50" x2="485.99" y2="276.00" stroke="#000" stroke-width="1.9" />
<line x1="513.02" y1="271.50" x2="513.02" y2="280.50" stroke="#000" stroke-width="1.9" />
<text x="513.02" y="299.40" font-size="15" fill="#000" text-anchor="middle" font-family="Liberation Sans"  >7</text>
<line x1="540.05" y1="271.50" x2="540.05" y2="276.00" stroke="#000" stroke-width="1.9" />
<line x1="567.08" y1="271.50" x2="567.08" y2="280.50" stroke="#000" stroke-width="1.9" />
<text x="567.08" y="299.40" font-size="15" fill="#000" text-anchor="middle" font-family="Liberation Sans"  >8</text>
<line x1="594.11" y1="271.50" x2="594.11" y2="276.00" stroke="#000" stroke-width="1.9" />
<line x1="621.14" y1="271.50" x2="621.14" y2="280.50" stroke="#000" stroke-width="1.9" />
<text x="621.14" y="299.40" font-size="15" fill="#000" text-anchor="middle" font-family="Liberation Sans"  >9</text>
<line x1="648.17" y1="271.50" x2="648.17" y2="276.00" stroke="#000" stroke-width="1.9" />
<line x1="675.20" y1="271.50" x2="675.20" y2="280.50" stroke="#000" stroke-width="1.9" />
<text x="675.20" y="299.40" font-size="15" fill="#000" text-anchor="middle" font-family="Liberation Sans"  >10</text>
<text x="378.10" y="325.40" font-size="15" fill="#000" text-anchor="middle" font-family="Liberation Sans"  textLength="68" lengthAdjust="spacingAndGlyphs">Strain (%)</text>
<text transform="translate(26.8,190.2) rotate(-90)" font-size="15" text-anchor="middle" textLength="89" lengthAdjust="spacingAndGlyphs" font-family="Liberation Sans">Stress (MPa)</text>
<text x="8.60" y="120.30" font-size="16.5" fill="#000" text-anchor="start" font-family="Liberation Sans" font-weight="bold" >f</text>
<text x="617.00" y="188.50" font-size="17.5" fill="#000" text-anchor="start" font-family="Liberation Sans" font-weight="bold" >ES-F</text>
<polyline points="135.0,249.3 135.0,260.7 136.2,259.5 137.4,258.3 138.6,257.9 139.8,256.9 140.9,254.9 142.1,254.3 143.3,252.7 144.5,250.8 145.7,249.3 147.1,246.4 148.3,237.9 148.6,243.6 149.7,241.9 150.8,241.5 151.8,239.7 152.9,239.3 153.9,237.4 155.0,235.1 156.1,233.3 157.1,232.1 158.2,230.2 159.2,229.0 160.3,226.2 161.4,225.0 162.5,222.9 163.7,221.7 164.8,220.5 166.0,218.2 167.1,216.4 168.3,214.6 169.4,213.7 170.6,210.7 171.7,210.1 172.9,207.9 173.9,205.8 175.0,204.3 176.1,200.8 177.2,197.7 178.2,194.9 179.3,192.1 180.7,190.8 182.1,188.6 183.3,186.7 184.5,185.8 185.7,184.3 187.1,182.0 188.6,179.3 189.9,175.8 191.3,172.7 192.8,178.7 194.2,184.5 195.7,179.9 196.8,176.5 197.8,174.3 199.0,172.5 200.1,171.5 201.3,170.7 202.6,170.2 203.9,169.2 205.4,165.6 206.5,163.0 207.7,161.7 208.8,160.4 210.0,159.5 211.2,158.4 212.4,157.0 213.6,155.9 214.6,154.1 215.7,152.8 216.7,150.8 217.5,163.0 217.9,155.9 219.7,149.2 221.3,147.0 222.3,148.0 223.3,148.4 224.3,148.7 225.9,148.2 226.9,151.3 227.9,151.3 229.0,152.1 230.0,152.3 231.4,153.1 232.8,153.8 233.2,163.0 234.0,157.9 235.3,157.9 236.6,156.9 237.8,158.4 239.0,159.0 240.2,160.5 241.2,163.7 242.2,165.6 243.4,166.4 244.6,168.2 245.8,169.7 247.3,172.7 248.9,180.9 250.4,193.2 251.3,189.4 252.6,188.2 253.9,186.3 254.9,185.6 256.0,185.9 257.0,185.7 258.3,186.0 259.6,187.6 261.0,189.2 262.3,190.3 263.4,191.5 264.4,192.0 265.8,195.1 266.5,203.4 267.5,200.3 268.8,199.0 270.6,197.7 271.5,201.2 272.8,201.6 274.0,202.3 275.1,203.3 276.3,203.4 277.5,203.6 278.6,204.5 279.8,204.7 280.9,205.5 282.0,206.1 283.1,206.6 284.2,207.3 285.5,208.2 286.8,208.2 288.0,209.9 289.1,210.2 290.3,211.3 291.5,212.5 292.6,212.7 293.8,214.3 295.1,215.5 296.4,216.3 297.7,217.0 299.5,221.3 300.6,220.2 301.7,217.8 303.0,218.1 304.3,217.4 305.4,217.5 306.6,218.0 307.7,218.7 308.9,218.2 310.0,219.2 311.3,219.7 312.5,219.9 313.8,220.9 314.9,220.7 316.0,221.0 317.1,222.4 318.2,221.8 319.3,222.4 320.4,222.9 321.5,224.0 322.6,223.8 323.6,223.7 324.6,224.8 325.7,225.4 326.7,226.4 327.7,226.8 328.7,227.4 329.7,227.1 330.8,227.8 331.8,228.3 332.8,229.0 333.8,229.7 334.8,230.1 335.9,229.1 336.9,229.4 337.9,229.7 338.9,229.9 339.9,230.4 341.0,230.8 342.0,230.6 343.0,231.1 344.0,230.5 345.1,231.2 346.1,231.2 347.2,231.6 348.2,232.3 349.3,232.0 350.3,231.9 351.3,232.1 352.4,232.3 353.4,231.5 354.5,232.8 355.5,232.8 356.6,233.0 357.6,232.6 358.7,233.1 359.7,232.7 360.8,232.8 361.9,232.6 362.9,233.4 364.0,232.8 365.0,232.9 366.1,233.2 367.2,233.3 368.2,233.6 369.3,234.0 370.3,233.5 371.4,233.6 372.4,234.0 373.4,234.1 374.5,234.6 375.5,234.3 376.5,235.7 377.6,235.5 378.6,235.5 380.4,240.3 381.4,239.1 382.4,238.8 383.4,238.5 384.4,238.8 385.4,238.9 386.4,238.6 387.4,239.7 388.4,240.0 389.5,239.3 390.5,239.5 391.5,239.0 392.5,239.1 393.5,239.5 394.5,239.5 395.5,239.9 396.5,240.5 397.6,239.7 398.6,239.7 399.7,241.1 400.7,240.7 401.8,240.3 402.8,241.0 403.8,240.4 404.9,241.2 405.9,242.0 407.0,242.0 408.0,241.9 409.1,241.4 410.1,241.9 411.1,241.8 412.2,241.6 413.2,242.5 414.3,242.2 415.3,242.6 416.4,242.0 417.4,242.0 418.4,242.9 419.5,243.2 420.5,243.0 421.6,243.0 422.6,243.1 423.7,243.1 424.7,242.8 425.7,242.6 426.8,243.1 427.8,243.0 428.8,242.7 429.8,242.9 430.8,243.4 431.9,243.5 432.9,244.2 433.9,244.7 434.9,244.2 436.0,245.0 437.0,245.2 438.0,245.3 439.1,244.6 440.1,244.6 441.1,244.7 442.1,244.8 443.1,245.0 444.2,245.7 445.2,245.7 446.3,246.4 447.3,246.4 448.4,246.1 449.4,246.4 450.5,246.8 451.5,245.9 452.6,246.8 453.7,247.3 454.7,247.3 455.8,247.3 456.8,247.1 457.9,246.8 458.9,247.8 460.0,247.5 461.0,247.4 462.0,248.2 463.0,248.6 464.0,247.9 465.0,248.0 466.0,248.9 467.1,248.7 468.1,248.1 469.1,248.2 470.1,248.3 471.1,249.5 472.1,249.5 473.1,249.2 474.1,248.8 475.1,249.8 476.1,250.1 477.1,249.7 478.1,249.3 479.1,249.7 480.1,249.2 481.1,249.1 482.1,250.5 483.1,250.1 484.2,250.0 485.2,250.7 486.2,250.0 487.2,250.7 488.2,250.7 489.2,249.9 490.2,250.1 491.2,250.2 492.2,250.2 493.2,250.7 494.2,250.7 495.2,250.4 496.2,250.6 497.2,250.3 498.2,251.4 499.2,250.6 500.2,250.8 501.3,251.0 502.3,251.5 503.3,250.8 504.3,251.5 505.3,251.0 506.3,251.0 507.3,251.0 508.3,250.3 509.3,251.0 510.3,250.6 511.3,250.4 512.3,251.5 513.3,250.7 514.4,251.1 515.4,251.5 516.4,251.3 517.4,251.0 518.4,251.3 519.4,251.4 520.4,251.3 521.5,252.0 522.7,251.3 523.8,252.3 524.9,252.1 526.0,252.5 527.2,253.5 528.3,253.4 529.3,253.4 530.3,253.5 531.4,253.8 532.4,254.0 533.4,253.3 534.4,253.6 535.5,253.4 536.5,253.4 537.5,253.7 538.5,253.3 539.5,253.4 540.6,253.4 541.6,254.0 542.6,253.7 543.6,253.9 544.7,254.0 545.7,253.1 546.7,253.4 547.7,253.5 548.7,254.1 549.8,254.0 550.8,253.1 551.8,253.1 552.8,253.7 553.9,253.2 554.9,253.5 555.9,253.3 556.9,254.2 557.9,254.4 559.0,254.6 560.0,253.6 561.0,254.5 562.0,254.5 563.1,253.8 564.1,254.9 565.1,254.4 566.1,255.0 567.1,254.0 568.2,255.0 569.2,254.1 570.2,254.2 571.2,254.9 572.3,254.7 573.3,253.7 574.3,254.1 575.3,254.1 576.3,253.9 577.4,253.6 578.4,253.8 579.4,254.3 580.4,253.3 581.5,254.0 582.5,253.8 583.5,253.9 584.5,253.3 585.6,253.8 586.6,254.2 587.6,254.1 588.6,253.6 589.7,254.9 590.7,254.7 591.7,255.0 592.7,253.9 593.8,254.1 594.8,253.9 595.8,255.0 596.8,254.3 597.9,254.2 598.9,254.6 599.9,255.4 600.9,255.3 602.0,254.6 603.0,254.5 604.0,255.6 605.0,255.2 606.1,255.4 607.1,255.2 608.1,254.6 609.2,254.6 610.2,255.5 611.3,255.1 612.4,254.6 613.4,255.8 614.5,255.4 615.5,255.6 616.6,254.6 617.6,255.2 618.6,255.9 619.7,255.0 620.8,256.4 621.8,256.0 622.9,256.1 623.9,256.6 625.0,257.4 626.0,257.0" fill="none" stroke="#000" stroke-width="2.2" stroke-linejoin="round"/>
<line x1="107.70" y1="102.50" x2="130.60" y2="224.20" stroke="#ff0a0a" stroke-width="1.6" stroke-dasharray="8.5 3.8"/>
<line x1="206.10" y1="102.50" x2="213.50" y2="129.40" stroke="#ff0a0a" stroke-width="1.6" stroke-dasharray="8.5 3.8"/>
<line x1="342.30" y1="102.50" x2="270.50" y2="172.10" stroke="#ff0a0a" stroke-width="1.6" stroke-dasharray="8.5 3.8"/>
<line x1="477.20" y1="102.50" x2="388.90" y2="210.60" stroke="#ff0a0a" stroke-width="1.6" stroke-dasharray="8.5 3.8"/>
<line x1="613.20" y1="102.50" x2="388.90" y2="210.60" stroke="#ff0a0a" stroke-width="1.6" stroke-dasharray="8.5 3.8"/>
<text x="125.80" y="242.60" font-size="17" fill="#ff0000" text-anchor="start" font-family="Liberation Sans" font-weight="bold" >a</text>
<text x="208.60" y="147.90" font-size="17" fill="#ff0000" text-anchor="start" font-family="Liberation Sans" font-weight="bold" >b</text>
<text x="266.60" y="191.60" font-size="17" fill="#ff0000" text-anchor="start" font-family="Liberation Sans" font-weight="bold" >c</text>
<text x="376.60" y="231.10" font-size="17" fill="#ff0000" text-anchor="start" font-family="Liberation Sans" font-weight="bold" >d/e</text>
<line x1="61.20" y1="453.40" x2="61.20" y2="600.30" stroke="#000" stroke-width="1.9" />
<line x1="60.40" y1="599.50" x2="670.00" y2="599.50" stroke="#000" stroke-width="1.9" />
<line x1="52.00" y1="593.90" x2="61.20" y2="593.90" stroke="#000" stroke-width="1.9" />
<text x="45.30" y="598.30" font-size="15.6" fill="#000" text-anchor="end" font-family="Liberation Sans"  >0</text>
<line x1="56.60" y1="582.26" x2="61.20" y2="582.26" stroke="#000" stroke-width="1.9" />
<line x1="52.00" y1="570.62" x2="61.20" y2="570.62" stroke="#000" stroke-width="1.9" />
<text x="45.30" y="575.02" font-size="15.6" fill="#000" text-anchor="end" font-family="Liberation Sans"  >4</text>
<line x1="56.60" y1="558.98" x2="61.20" y2="558.98" stroke="#000" stroke-width="1.9" />
<line x1="52.00" y1="547.34" x2="61.20" y2="547.34" stroke="#000" stroke-width="1.9" />
<text x="45.30" y="551.74" font-size="15.6" fill="#000" text-anchor="end" font-family="Liberation Sans"  >8</text>
<line x1="56.60" y1="535.70" x2="61.20" y2="535.70" stroke="#000" stroke-width="1.9" />
<line x1="52.00" y1="524.06" x2="61.20" y2="524.06" stroke="#000" stroke-width="1.9" />
<text x="45.30" y="528.46" font-size="15.6" fill="#000" text-anchor="end" font-family="Liberation Sans"  >12</text>
<line x1="56.60" y1="512.42" x2="61.20" y2="512.42" stroke="#000" stroke-width="1.9" />
<line x1="52.00" y1="500.78" x2="61.20" y2="500.78" stroke="#000" stroke-width="1.9" />
<text x="45.30" y="505.18" font-size="15.6" fill="#000" text-anchor="end" font-family="Liberation Sans"  >16</text>
<line x1="56.60" y1="489.14" x2="61.20" y2="489.14" stroke="#000" stroke-width="1.9" />
<line x1="52.00" y1="477.50" x2="61.20" y2="477.50" stroke="#000" stroke-width="1.9" />
<text x="45.30" y="481.90" font-size="15.6" fill="#000" text-anchor="end" font-family="Liberation Sans"  >20</text>
<line x1="56.60" y1="465.86" x2="61.20" y2="465.86" stroke="#000" stroke-width="1.9" />
<line x1="52.00" y1="454.22" x2="61.20" y2="454.22" stroke="#000" stroke-width="1.9" />
<text x="45.30" y="458.62" font-size="15.6" fill="#000" text-anchor="end" font-family="Liberation Sans"  >24</text>
<line x1="61.21" y1="599.50" x2="61.21" y2="608.50" stroke="#000" stroke-width="1.9" />
<text x="61.21" y="627.20" font-size="15" fill="#000" text-anchor="middle" font-family="Liberation Sans"  >−0.1</text>
<line x1="93.25" y1="599.50" x2="93.25" y2="604.00" stroke="#000" stroke-width="1.9" />
<line x1="125.30" y1="599.50" x2="125.30" y2="608.50" stroke="#000" stroke-width="1.9" />
<text x="125.30" y="627.20" font-size="15" fill="#000" text-anchor="middle" font-family="Liberation Sans"  >0.0</text>
<line x1="157.34" y1="599.50" x2="157.34" y2="604.00" stroke="#000" stroke-width="1.9" />
<line x1="189.39" y1="599.50" x2="189.39" y2="608.50" stroke="#000" stroke-width="1.9" />
<text x="189.39" y="627.20" font-size="15" fill="#000" text-anchor="middle" font-family="Liberation Sans"  >0.1</text>
<line x1="221.44" y1="599.50" x2="221.44" y2="604.00" stroke="#000" stroke-width="1.9" />
<line x1="253.48" y1="599.50" x2="253.48" y2="608.50" stroke="#000" stroke-width="1.9" />
<text x="253.48" y="627.20" font-size="15" fill="#000" text-anchor="middle" font-family="Liberation Sans"  >0.2</text>
<line x1="285.53" y1="599.50" x2="285.53" y2="604.00" stroke="#000" stroke-width="1.9" />
<line x1="317.57" y1="599.50" x2="317.57" y2="608.50" stroke="#000" stroke-width="1.9" />
<text x="317.57" y="627.20" font-size="15" fill="#000" text-anchor="middle" font-family="Liberation Sans"  >0.3</text>
<line x1="349.62" y1="599.50" x2="349.62" y2="604.00" stroke="#000" stroke-width="1.9" />
<line x1="381.66" y1="599.50" x2="381.66" y2="608.50" stroke="#000" stroke-width="1.9" />
<text x="381.66" y="627.20" font-size="15" fill="#000" text-anchor="middle" font-family="Liberation Sans"  >0.4</text>
<line x1="413.71" y1="599.50" x2="413.71" y2="604.00" stroke="#000" stroke-width="1.9" />
<line x1="445.75" y1="599.50" x2="445.75" y2="608.50" stroke="#000" stroke-width="1.9" />
<text x="445.75" y="627.20" font-size="15" fill="#000" text-anchor="middle" font-family="Liberation Sans"  >0.5</text>
<line x1="477.80" y1="599.50" x2="477.80" y2="604.00" stroke="#000" stroke-width="1.9" />
<line x1="509.84" y1="599.50" x2="509.84" y2="608.50" stroke="#000" stroke-width="1.9" />
<text x="509.84" y="627.20" font-size="15" fill="#000" text-anchor="middle" font-family="Liberation Sans"  >0.6</text>
<line x1="541.88" y1="599.50" x2="541.88" y2="604.00" stroke="#000" stroke-width="1.9" />
<line x1="573.93" y1="599.50" x2="573.93" y2="608.50" stroke="#000" stroke-width="1.9" />
<text x="573.93" y="627.20" font-size="15" fill="#000" text-anchor="middle" font-family="Liberation Sans"  >0.7</text>
<line x1="605.98" y1="599.50" x2="605.98" y2="604.00" stroke="#000" stroke-width="1.9" />
<line x1="638.02" y1="599.50" x2="638.02" y2="608.50" stroke="#000" stroke-width="1.9" />
<text x="638.02" y="627.20" font-size="15" fill="#000" text-anchor="middle" font-family="Liberation Sans"  >0.8</text>
<line x1="670.06" y1="599.50" x2="670.06" y2="604.00" stroke="#000" stroke-width="1.9" />
<text transform="translate(15.0,526.2) rotate(-90)" font-size="15" text-anchor="middle" textLength="91" lengthAdjust="spacingAndGlyphs" font-family="Liberation Sans">Stress (MPa)</text>
<text x="7.00" y="457.50" font-size="16.5" fill="#000" text-anchor="start" font-family="Liberation Sans" font-weight="bold" >l</text>
<text x="629.80" y="527.70" font-size="18" fill="#000" text-anchor="start" font-family="Liberation Sans" font-weight="bold" >SC-F</text>
<polyline points="124.8,594.0 158.5,593.6 184.2,592.3 200.3,590.6 222.8,587.4 248.5,581.7 267.7,577.9 280.6,573.7 284.6,573.7 284.6,571.9 288.6,571.9 288.6,570.0 292.6,570.0 292.6,568.1 296.6,568.1 296.6,566.3 301.1,566.3 301.1,564.6 305.6,564.6 305.6,562.9 310.1,562.9 310.1,561.1 314.6,561.1 314.6,559.4 319.1,559.4 319.1,557.7 321.8,557.7 321.8,556.1 324.6,556.1 324.6,554.4 327.3,554.4 327.3,552.8 330.0,552.8 330.0,551.1 333.9,551.1 333.9,549.4 337.8,549.4 337.8,547.8 341.7,547.8 341.7,546.1 344.6,546.1 344.6,544.4 347.5,544.4 347.5,542.8 350.4,542.8 350.4,541.1 353.4,541.1 353.4,539.5 356.3,539.5 356.3,537.8 359.2,537.8 359.2,536.2 362.1,536.2 362.1,534.5 365.8,534.5 365.8,532.8 369.4,532.8 369.4,531.1 373.1,531.1 373.1,529.4 376.7,529.4 376.7,527.7 380.1,527.7 380.1,525.9 383.5,525.9 383.5,524.1 386.9,524.1 386.9,522.3 390.4,522.3 390.4,520.5 393.8,520.5 393.8,518.7 397.2,518.7 397.2,516.9 399.7,516.9 399.7,515.2 402.2,515.2 402.2,513.6 404.7,513.6 404.7,511.9 407.2,511.9 407.2,510.3 409.7,510.3 409.7,508.6 412.2,508.6 412.2,507.0 414.7,507.0 414.7,505.3 417.3,505.3 417.3,503.5 419.9,503.5 419.9,501.8 422.6,501.8 422.6,500.0 425.2,500.0 425.2,498.3 427.8,498.3 427.8,496.5 431.1,496.5 431.1,494.6 434.3,494.6 434.3,492.7 435.3,505.3 438.2,505.3 438.2,503.5 441.1,503.5 441.1,501.6 443.9,501.6 443.9,499.8 446.8,499.8 446.8,498.0 449.1,498.0 449.1,496.2 451.5,496.2 451.5,494.4 453.8,494.4 453.8,492.6 456.2,492.6 456.2,490.8 458.5,490.8 458.5,489.0 459.5,482.8 463.0,482.8 463.0,481.0 466.6,481.0 466.6,479.3 470.1,479.3 470.1,477.5 474.0,477.5 474.0,475.8 477.9,475.8 477.9,474.0 481.8,474.0 481.8,472.3 486.2,480.4 497.9,550.5 553.2,584.0 618.6,594.2" fill="none" stroke="#000" stroke-width="2.2" stroke-linejoin="miter"/>
<line x1="69.50" y1="436.60" x2="128.20" y2="563.60" stroke="#ff0a0a" stroke-width="1.6" stroke-dasharray="8.5 3.8"/>
<line x1="204.00" y1="436.60" x2="272.00" y2="548.40" stroke="#ff0a0a" stroke-width="1.6" stroke-dasharray="8.5 3.8"/>
<line x1="339.90" y1="436.60" x2="427.50" y2="474.00" stroke="#ff0a0a" stroke-width="1.6" stroke-dasharray="8.5 3.8"/>
<line x1="474.40" y1="433.50" x2="610.80" y2="564.50" stroke="#ff0a0a" stroke-width="1.6" stroke-dasharray="8.5 3.8"/>
<line x1="611.00" y1="433.50" x2="611.00" y2="564.50" stroke="#ff0a0a" stroke-width="1.6" stroke-dasharray="8.5 3.8"/>
<text x="123.20" y="584.00" font-size="17" fill="#ff0000" text-anchor="start" font-family="Liberation Sans" font-weight="bold" >g</text>
<text x="269.20" y="565.70" font-size="17" fill="#ff0000" text-anchor="start" font-family="Liberation Sans" font-weight="bold" >h</text>
<text x="431.60" y="487.70" font-size="17" fill="#ff0000" text-anchor="start" font-family="Liberation Sans" font-weight="bold" >i</text>
<text x="600.60" y="583.90" font-size="17" fill="#ff0000" text-anchor="start" font-family="Liberation Sans" font-weight="bold" >j/k</text>
</svg>
</body></html>
